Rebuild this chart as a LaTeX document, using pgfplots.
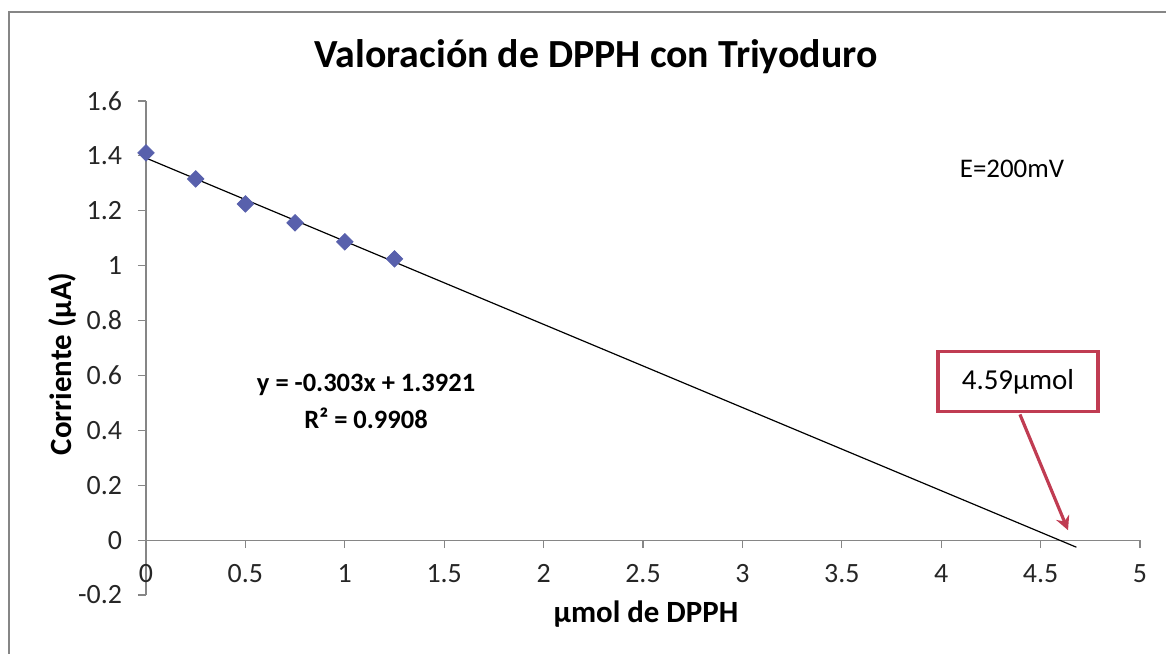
\documentclass[border=0pt]{standalone}
\usepackage{pgfplots}
\pgfplotsset{compat=1.18}
\usepackage{fontspec}
\setmainfont{Carlito}
\usetikzlibrary{arrows.meta}
\definecolor{serie}{RGB}{88,96,172}
\definecolor{rojo}{RGB}{192,60,82}
\definecolor{eje}{RGB}{134,134,134}
\begin{document}
\begin{tikzpicture}
\useasboundingbox (-73bp,-29.5bp) rectangle (510bp,297.5bp);
\draw[eje, line width=1.2bp] (-68.5bp,-40bp) -- (-68.5bp,291.5bp) -- (520bp,291.5bp);
\node[font=\fontsize{20}{24}\selectfont\bfseries] at (225bp,269bp) {Valoración de DPPH con Triyoduro};
\begin{axis}[
  at={(0,0)}, anchor=south west,
  scale only axis, width=497bp, height=247bp,
  xmin=0, xmax=5, ymin=-0.2, ymax=1.6,
  axis lines=middle,
  axis line style={eje, line width=0.6bp, -},
  hide obscured x ticks=false, hide obscured y ticks=false,
  xtick={0,0.5,...,5}, ytick={-0.2,0,0.2,0.4,0.6,0.8,1,1.2,1.4,1.6},
  tick align=outside, major tick length=4bp,
  tick style={eje, line width=0.6bp},
  /pgf/number format/assume math mode=true,
  ticklabel style={font=\fontsize{14}{16}\selectfont, text=black!85},
  xticklabel style={anchor=north, yshift=-4.5bp},
  yticklabel style={anchor=east, xshift=-4.5bp},
  xlabel={µmol de DPPH}, ylabel={Corriente (µA)},
  xlabel style={at={(axis description cs:0.503,0)}, anchor=center, yshift=-9.5bp, font=\fontsize{15.5}{18}\selectfont\bfseries},
  ylabel style={at={(axis description cs:-0.0845,0.468)}, anchor=center, rotate=90, font=\fontsize{15.5}{18}\selectfont\bfseries},
  clip=false,
]
\addplot[black, line width=0.6bp] coordinates {(0,1.3921) (4.68,-0.0259)};
\addplot[only marks, mark=square*, mark size=2.9bp, mark options={rotate=45, fill=serie, draw=serie}]
  coordinates {(0,1.411) (0.25,1.316) (0.5,1.225) (0.75,1.156) (1,1.087) (1.25,1.025)};
\node[font=\fontsize{13.3}{16}\selectfont\bfseries] at (axis cs:1.107,0.564) {y = -0.303x + 1.3921};
\node[font=\fontsize{13.3}{16}\selectfont\bfseries] at (axis cs:1.107,0.444) {R² = 0.9908};
\node[font=\fontsize{13.5}{16}\selectfont] at (axis cs:4.356,1.353) {E=200mV};
\draw[rojo, line width=1.6bp, -{Stealth[length=7bp, width=7bp]}] (axis cs:4.396,0.458) -- (axis cs:4.638,0.036);
\node[draw=rojo, line width=1.6bp, fill=white, minimum width=80bp, minimum height=30bp, font=\fontsize{14.5}{17}\selectfont] at (axis cs:4.386,0.578) {4.59µmol};
\end{axis}
\end{tikzpicture}
\end{document}
